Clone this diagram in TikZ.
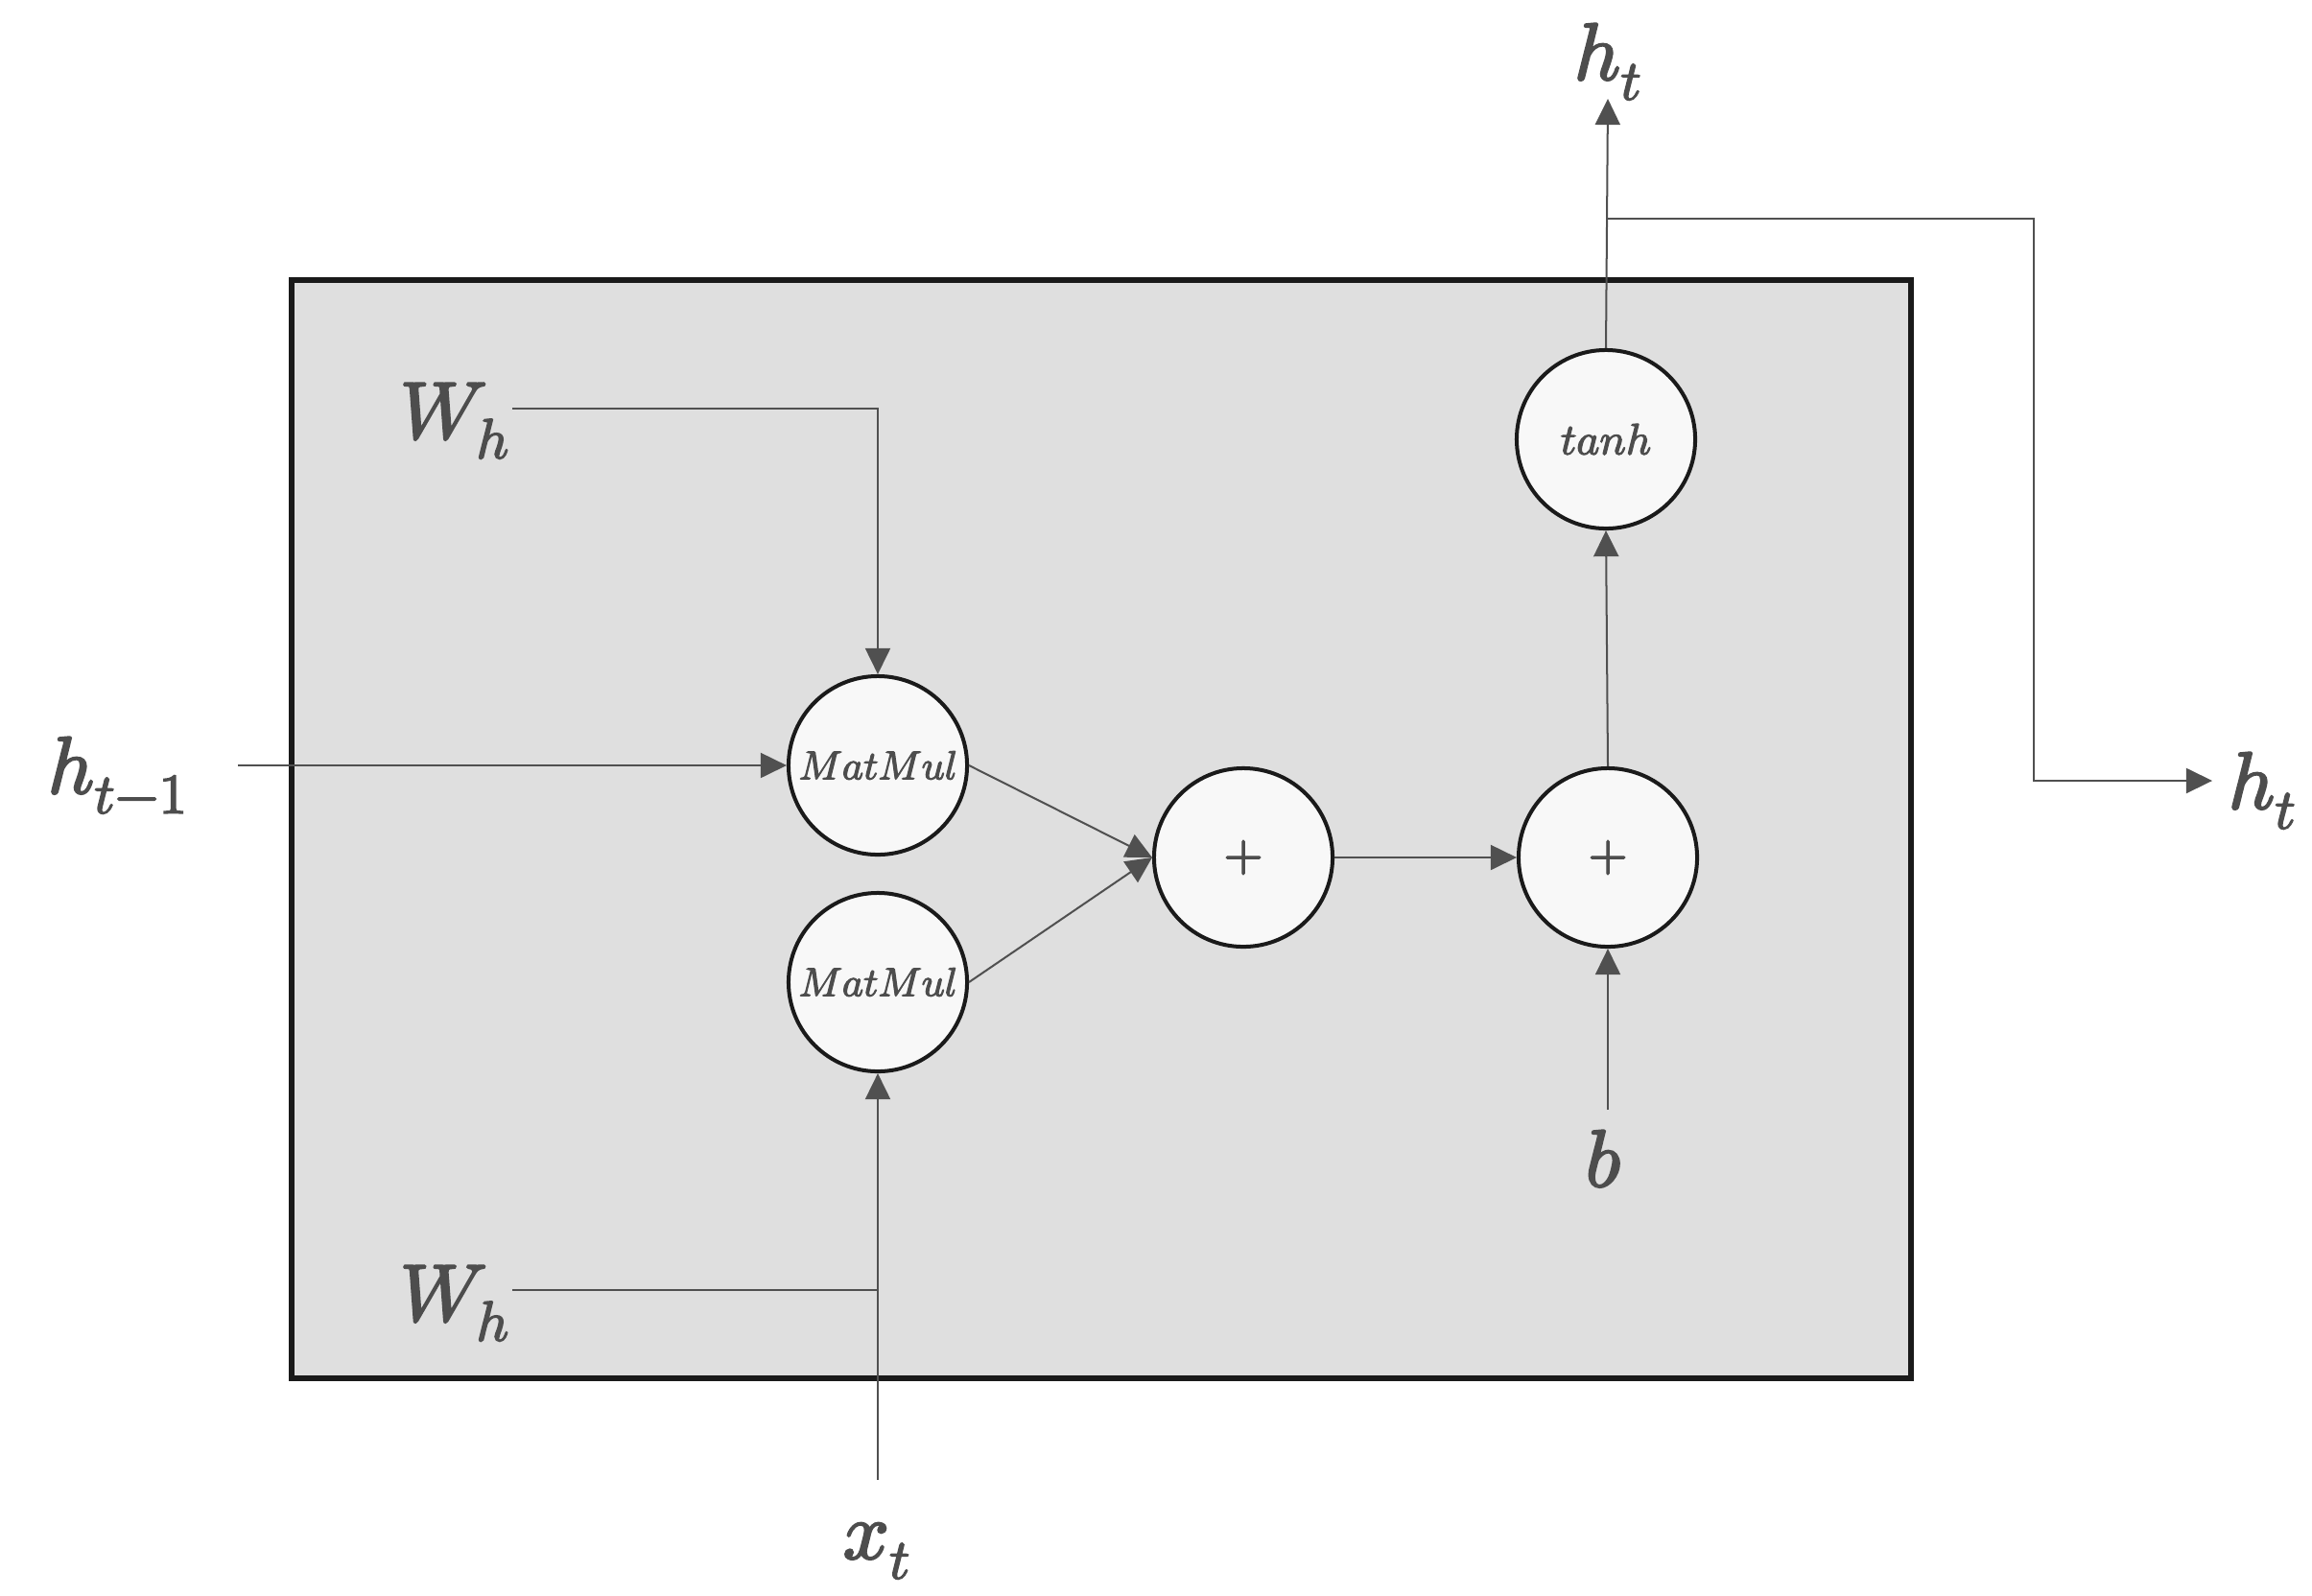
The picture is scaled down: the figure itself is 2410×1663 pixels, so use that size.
\documentclass[tikz,border=0pt]{standalone}
\usepackage{unicode-math}
\setmathfont{latinmodern-math.otf}[FakeBold=2.6]
\usetikzlibrary{arrows.meta}
\definecolor{txt}{HTML}{4D4D4D}
\definecolor{ln}{HTML}{505050}
\definecolor{bd}{HTML}{1A1A1A}
\definecolor{cellfill}{HTML}{DFDFDF}
\definecolor{opfill}{HTML}{F8F8F8}
\begin{document}
\begin{tikzpicture}[x=0.01cm,y=-0.01cm,
  op/.style={circle,draw=bd,line width=1.14pt,fill=opfill,minimum size=1.86cm,inner sep=0pt,text=txt,font=\fontsize{12}{14}\selectfont},
  lbl/.style={text=txt,inner sep=0pt,font=\fontsize{24}{28}\selectfont,anchor=base west},
  conn/.style={draw=ln,line width=0.57pt},
  arr/.style={conn,-{Triangle[length=7.7pt,width=7.4pt]}}]
\useasboundingbox (0,0) rectangle (2410,1663);
% cell
\draw[draw=bd,fill=cellfill,line width=1.45pt] (304,292) rectangle (1992,1437);
% operation nodes
\node[op] (mm1) at (915,798) {$MatMul$};
\node[op] (mm2) at (915,1024) {$MatMul$};
\node[op,font=\fontsize{15}{17}\selectfont] (add1) at (1296,894) {$+$};
\node[op,font=\fontsize{15}{17}\selectfont] (add2) at (1676,894) {$+$};
\node[op,font=\fontsize{13}{15}\selectfont] (th) at (1674,458) {$tanh$};
% labels
\node[lbl] (hprev) at (49,827) {$h_{t-1}$};
\node[lbl] (wh1) at (416,457) {$W_h$};
\node[lbl] (wh2) at (416,1377) {$W_h$};
\node[lbl] (xt) at (878,1625) {$x_t$};
\node[lbl] (b) at (1652,1237) {$b$};
\node[lbl] (htop) at (1640,83) {$h_t$};
\node[lbl] (hright) at (2322,843) {$h_t$};
% connector end points
\coordinate (hs) at (248,798);
\coordinate (w1s) at (534,426);
\coordinate (w1c) at (915,426);
\coordinate (w2s) at (534,1345);
\coordinate (w2c) at (915,1345);
\coordinate (xs) at (915,1543);
\coordinate (bs) at (1676,1157);
\coordinate (topend) at (1676,103);
\coordinate (br) at (1676,228);
\coordinate (br1) at (2120,228);
\coordinate (br2) at (2120,814);
\coordinate (rightend) at (2306,814);
% connectors
\draw[arr] (hs) -- (mm1.west);
\draw[arr] (w1s) -- (w1c) -- (mm1.north);
\draw[arr] (xs) -- (mm2.south);
\draw[conn] (w2s) -- (w2c);
\draw[arr] (mm1.east) -- (add1.west);
\draw[arr] (mm2.east) -- (add1.west);
\draw[arr] (add1.east) -- (add2.west);
\draw[arr] (bs) -- (add2.south);
\draw[arr] (add2.north) -- (th.south);
\draw[arr] (th.north) -- (topend);
\draw[arr] (br) -- (br1) -- (br2) -- (rightend);
\end{tikzpicture}
\end{document}
